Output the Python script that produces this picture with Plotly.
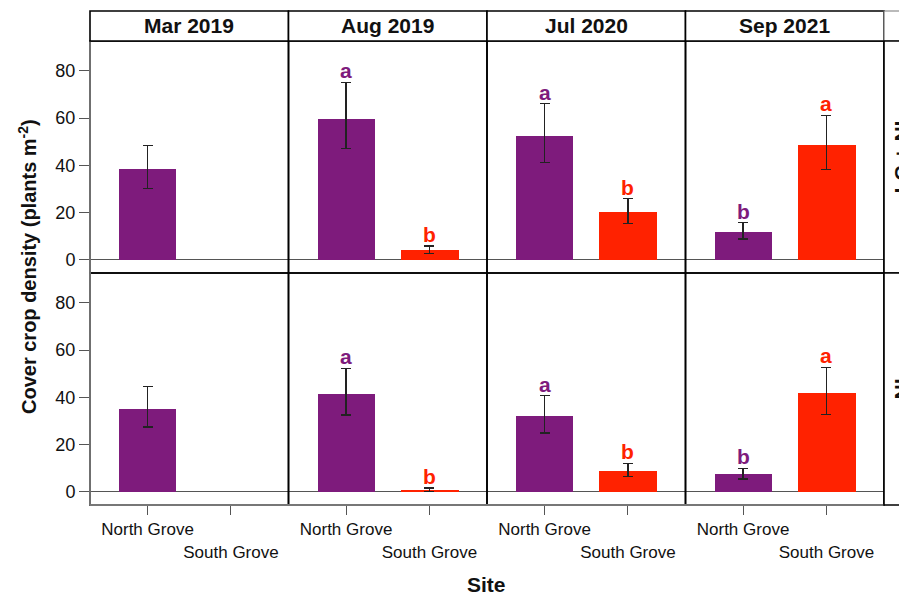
import plotly.graph_objects as go
from plotly.subplots import make_subplots

periods = ["Mar 2019", "Aug 2019", "Jul 2020", "Sep 2021"]
treatments = ["LC + NI", "NI"]
sites = ["North Grove", "South Grove"]
site_ticktext = ["North Grove", "<br>South Grove"]
y_ticks = [0, 20, 40, 60, 80]

# LC + NI (top row)
north_lcni = [38.4, 59.6, 52.4, 11.9]
north_lcni_hi = [48.5, 75.1, 66.0, 15.7]
north_lcni_lo = [30.2, 47.0, 41.2, 8.8]
south_lcni = [None, 4.1, 20.1, 48.4]
south_lcni_hi = [None, 5.8, 25.8, 61.2]
south_lcni_lo = [None, 2.7, 15.5, 38.3]

# NI (bottom row)
north_ni = [35.1, 41.3, 31.9, 7.5]
north_ni_hi = [44.4, 52.3, 40.6, 10.0]
north_ni_lo = [27.4, 32.5, 24.9, 5.4]
south_ni = [None, 0.8, 9.0, 41.7]
south_ni_hi = [None, 1.6, 12.0, 52.7]
south_ni_lo = [None, 0.2, 6.5, 32.8]

# significance letters (same in both rows)
north_letters = ["", "a", "a", "b"]
south_letters = ["", "b", "b", "a"]

PURPLE = "#7E1B7C"
RED = "#FF2200"
FONT = "Liberation Sans, Arial, sans-serif"
TXT = "#111111"

rows_data = [
    (north_lcni, north_lcni_hi, north_lcni_lo, south_lcni, south_lcni_hi, south_lcni_lo),
    (north_ni, north_ni_hi, north_ni_lo, south_ni, south_ni_hi, south_ni_lo),
]

fig = make_subplots(rows=2, cols=4, horizontal_spacing=0, vertical_spacing=0)

for r, (nv, nh, nl, sv, sh, sl) in enumerate(rows_data, start=1):
    for c in range(4):
        xs, ys, cols, up, dn = [], [], [], [], []
        xs.append(sites[0]); ys.append(nv[c]); cols.append(PURPLE)
        up.append(nh[c] - nv[c]); dn.append(nv[c] - nl[c])
        if sv[c] is not None:
            xs.append(sites[1]); ys.append(sv[c]); cols.append(RED)
            up.append(sh[c] - sv[c]); dn.append(sv[c] - sl[c])
        fig.add_trace(go.Bar(
            x=xs, y=ys, width=0.69,
            marker=dict(color=cols, line=dict(width=0)),
            error_y=dict(type="data", symmetric=False, array=up, arrayminus=dn,
                         color="#222222", thickness=1.2, width=5),
            showlegend=False, hoverinfo="skip",
        ), row=r, col=c + 1)
        if north_letters[c]:
            fig.add_annotation(x=sites[0], y=nh[c], text="<b>%s</b>" % north_letters[c],
                               showarrow=False, yanchor="bottom", yshift=-2,
                               font=dict(family=FONT, size=21, color=PURPLE),
                               row=r, col=c + 1)
        if south_letters[c] and sv[c] is not None:
            fig.add_annotation(x=sites[1], y=sh[c], text="<b>%s</b>" % south_letters[c],
                               showarrow=False, yanchor="bottom", yshift=-2,
                               font=dict(family=FONT, size=21, color=RED),
                               row=r, col=c + 1)
        fig.update_xaxes(
            type="category", categoryorder="array", categoryarray=sites,
            range=[-0.69, 1.69], automargin=False, tickangle=0,
            showline=False, showgrid=False, zeroline=False,
            ticks="outside" if r == 2 else "", ticklen=9, tickcolor="#555555", tickwidth=1.2,
            showticklabels=(r == 2), tickvals=sites, ticktext=site_ticktext,
            tickfont=dict(family=FONT, size=17, color=TXT),
            row=r, col=c + 1)
        fig.update_yaxes(
            range=[-5.6, 92.6], tickvals=y_ticks, automargin=False,
            showline=False, showgrid=False,
            zeroline=True, zerolinecolor="#555555", zerolinewidth=1,
            ticks="outside" if c == 0 else "", ticklen=10, tickcolor="#555555", tickwidth=1.2,
            showticklabels=(c == 0),
            tickfont=dict(family=FONT, size=18, color=TXT),
            row=r, col=c + 1)

# plot area in screen pixels: x 90..884, y 41..505 (page body margin removed below)
PX0, PX1, PY0, PY1 = 90, 884, 41, 505
W, H = 899, 595
L, T = PX0, PY0
pw, ph = PX1 - PX0, PY1 - PY0
R, B = W - L - pw, H - T - ph


def xp(sx):
    return (sx - PX0) / pw


def yp(sy):
    return (PY1 - sy) / ph


strip_h = 30 / ph

shapes = []
annots = []
for r in range(2):
    for c in range(4):
        shapes.append(dict(type="rect", xref="paper", yref="paper",
                           x0=c / 4, x1=(c + 1) / 4, y0=0.5 - r * 0.5, y1=1 - r * 0.5,
                           line=dict(color="black", width=1.6), layer="above"))
shapes.append(dict(type="line", xref="paper", yref="paper", x0=0, x1=0, y0=0, y1=1,
                   line=dict(color="#777777", width=1.8), layer="above"))
shapes.append(dict(type="line", xref="paper", yref="paper", x0=0, x1=1, y0=0, y1=0,
                   line=dict(color="#777777", width=1.8), layer="above"))

for c, p in enumerate(periods):
    shapes.append(dict(type="rect", xref="paper", yref="paper",
                       x0=c / 4, x1=(c + 1) / 4, y0=1, y1=1 + strip_h,
                       line=dict(color="black", width=1.6), fillcolor="white"))
    annots.append(dict(xref="paper", yref="paper", x=(c + 0.5) / 4, y=1 + strip_h / 2,
                       text="<b>%s</b>" % p, showarrow=False, xanchor="center", yanchor="middle",
                       font=dict(family=FONT, size=21, color=TXT)))
rx1 = xp(960)
shapes.append(dict(type="rect", xref="paper", yref="paper", x0=1, x1=rx1, y0=1, y1=1 + strip_h,
                   line=dict(color="#777777", width=1.2), fillcolor="white"))
for i, t in enumerate(treatments):
    y0 = 0.5 if i == 0 else 0
    shapes.append(dict(type="rect", xref="paper", yref="paper", x0=1, x1=rx1, y0=y0, y1=y0 + 0.5,
                       line=dict(color="black", width=1.6), fillcolor="white"))
    annots.append(dict(xref="paper", yref="paper", x=xp(887), y=y0 + 0.25,
                       text="<b>%s</b>" % t, showarrow=False, textangle=-90,
                       xanchor="left", yanchor="middle",
                       font=dict(family=FONT, size=21, color=TXT)))

annots.append(dict(xref="paper", yref="paper", x=xp(27), y=yp(267),
                   text="<b>Cover crop density (plants m<sup>-2</sup>)</b>", showarrow=False,
                   textangle=-90, xanchor="center", yanchor="middle",
                   font=dict(family=FONT, size=20, color=TXT)))
annots.append(dict(xref="paper", yref="paper", x=xp(486), y=yp(584),
                   text="<b>Site</b>", showarrow=False, xanchor="center", yanchor="middle",
                   font=dict(family=FONT, size=21, color=TXT)))

fig.update_layout(
    width=W, height=H,
    margin=dict(l=L, r=R, t=T, b=B, autoexpand=False),
    paper_bgcolor="white", plot_bgcolor="white",
    font=dict(family=FONT, color=TXT),
    shapes=shapes,
    bargap=0,
)
for a in annots:
    fig.add_annotation(**a)

fig.write_html("out.html",
               config={"displayModeBar": False},
               post_script="document.body.style.margin='0';document.body.style.overflow='hidden';")
